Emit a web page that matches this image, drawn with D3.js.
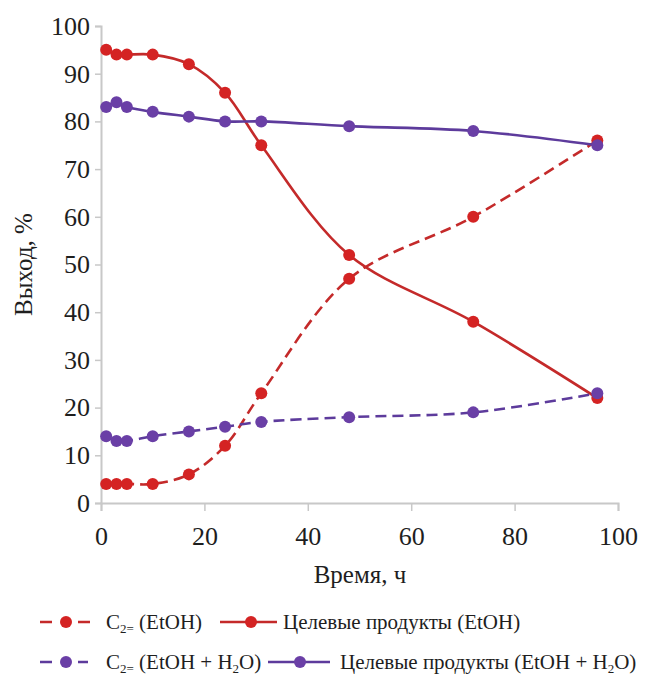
<!DOCTYPE html>
<html>
<head>
<meta charset="utf-8">
<script src="https://cdn.jsdelivr.net/npm/d3@7"></script>
<style>
  html, body { margin: 0; padding: 0; background: #fff; }
</style>
</head>
<body>
<svg id="chart" width="647" height="680"></svg>
<script>
// Reaction time, h
const hours = [1, 3, 5, 10, 17, 24, 31, 48, 72, 96];
// Yields, %
const c2EtOH          = [4, 4, 4, 4, 6, 12, 23, 47, 60, 76];
const targetEtOH      = [95, 94, 94, 94, 92, 86, 75, 52, 38, 22];
const c2EtOHWater     = [14, 13, 13, 14, 15, 16, 17, 18, 19, 23];
const targetEtOHWater = [83, 84, 83, 82, 81, 80, 80, 79, 78, 75];

const xTicks = [0, 20, 40, 60, 80, 100];
const yTicks = [0, 10, 20, 30, 40, 50, 60, 70, 80, 90, 100];

const FONT = "'Liberation Serif', Tinos";
const RED = "#d42323", RED_LINE = "#c42a2a";
const PURPLE = "#6a3fa6", PURPLE_LINE = "#5d3b9c";

const series = [
  { values: c2EtOH, color: RED, line: RED_LINE, dashed: true },
  { values: targetEtOH, color: RED, line: RED_LINE, dashed: false },
  { values: c2EtOHWater, color: PURPLE, line: PURPLE_LINE, dashed: true },
  { values: targetEtOHWater, color: PURPLE, line: PURPLE_LINE, dashed: false }
];

const svg = d3.select("#chart");
const plotLeft = 101, plotRight = 618, plotTop = 26, plotBottom = 503;

const x = d3.scaleLinear().domain([0, 100]).range([plotLeft, plotRight]);
const y = d3.scaleLinear().domain([0, 100]).range([plotBottom, plotTop]);

function addText(parent, size) {
  return parent.append("text")
    .style("font-family", FONT)
    .style("font-size", size + "px")
    .attr("fill", "#1e1e1e");
}

// Axes
const yAxis = svg.append("g").attr("transform", `translate(${plotLeft},0)`)
  .call(d3.axisLeft(y).tickValues(yTicks).tickSize(6).tickPadding(5));
const xAxis = svg.append("g").attr("transform", `translate(0,${plotBottom})`)
  .call(d3.axisBottom(x).tickValues(xTicks).tickSize(8).tickPadding(16));
[yAxis, xAxis].forEach(g => {
  g.attr("font-family", FONT).attr("font-size", 26);
  g.select(".domain").attr("stroke", "#c8c8c8").attr("stroke-width", 2);
  g.selectAll(".tick line").attr("stroke", "#c8c8c8").attr("stroke-width", 1.5);
  g.selectAll(".tick text").style("font-family", FONT).style("font-size", "26px").attr("fill", "#1e1e1e");
});

// Axis titles
addText(svg, 25).attr("x", 360).attr("y", 583)
  .attr("text-anchor", "middle").text("Время, ч");
addText(svg, 25).attr("transform", `translate(32,${(plotTop + plotBottom) / 2}) rotate(-90)`)
  .attr("text-anchor", "middle").text("Выход, %");

// Curves
const line = d3.line()
  .x((d, i) => x(hours[i]))
  .y(d => y(d))
  .curve(d3.curveCatmullRom.alpha(0.5));

const plot = svg.append("g");
series.forEach(s => {
  plot.append("path").datum(s.values)
    .attr("d", line)
    .attr("fill", "none")
    .attr("stroke", s.line)
    .attr("stroke-width", 2.6)
    .attr("stroke-dasharray", s.dashed ? "11,6" : null);
});
series.forEach(s => {
  plot.selectAll(null).data(s.values).enter().append("circle")
    .attr("cx", (d, i) => x(hours[i]))
    .attr("cy", d => y(d))
    .attr("r", 6)
    .attr("fill", s.color);
});

// Legend
const legend = svg.append("g");
const LEG = 21;
function legendItem(x0, x1, cx, yy, s) {
  legend.append("line").attr("x1", x0).attr("x2", x1).attr("y1", yy).attr("y2", yy)
    .attr("stroke", s.line).attr("stroke-width", 2.6)
    .attr("stroke-dasharray", s.dashed ? "12,26,12" : null);
  legend.append("circle").attr("cx", cx).attr("cy", yy).attr("r", 6).attr("fill", s.color);
}
// Appends a lowered subscript and returns to the baseline for the following text
function withSub(t, main, subTxt, rest) {
  t.append("tspan").text(main);
  t.append("tspan").style("font-size", "13px").attr("dy", 4).text(subTxt);
  t.append("tspan").attr("dy", -4).text(rest);
}
const rowA = 622, rowB = 662;

legendItem(40, 90, 66, rowA, series[0]);
const tA1 = addText(legend, LEG).attr("x", 106).attr("y", rowA + 7);
withSub(tA1, "C", "2=", "\u00a0(EtOH)");

legendItem(220, 277, 251, rowA, series[1]);
addText(legend, LEG).attr("x", 283).attr("y", rowA + 7).text("Целевые продукты (EtOH)");

legendItem(40, 88, 66, rowB, series[2]);
const tB1 = addText(legend, LEG).attr("x", 106).attr("y", rowB + 7);
tB1.append("tspan").text("C");
tB1.append("tspan").style("font-size", "13px").attr("dy", 4).text("2=");
tB1.append("tspan").attr("dy", -4).text("\u00a0(EtOH + H");
tB1.append("tspan").style("font-size", "13px").attr("dy", 4).text("2");
tB1.append("tspan").attr("dy", -4).text("O)");

legendItem(268, 330, 300, rowB, series[3]);
const tB2 = addText(legend, LEG).attr("x", 340).attr("y", rowB + 7);
withSub(tB2, "Целевые продукты (EtOH + H", "2", "O)");
</script>
</body>
</html>
